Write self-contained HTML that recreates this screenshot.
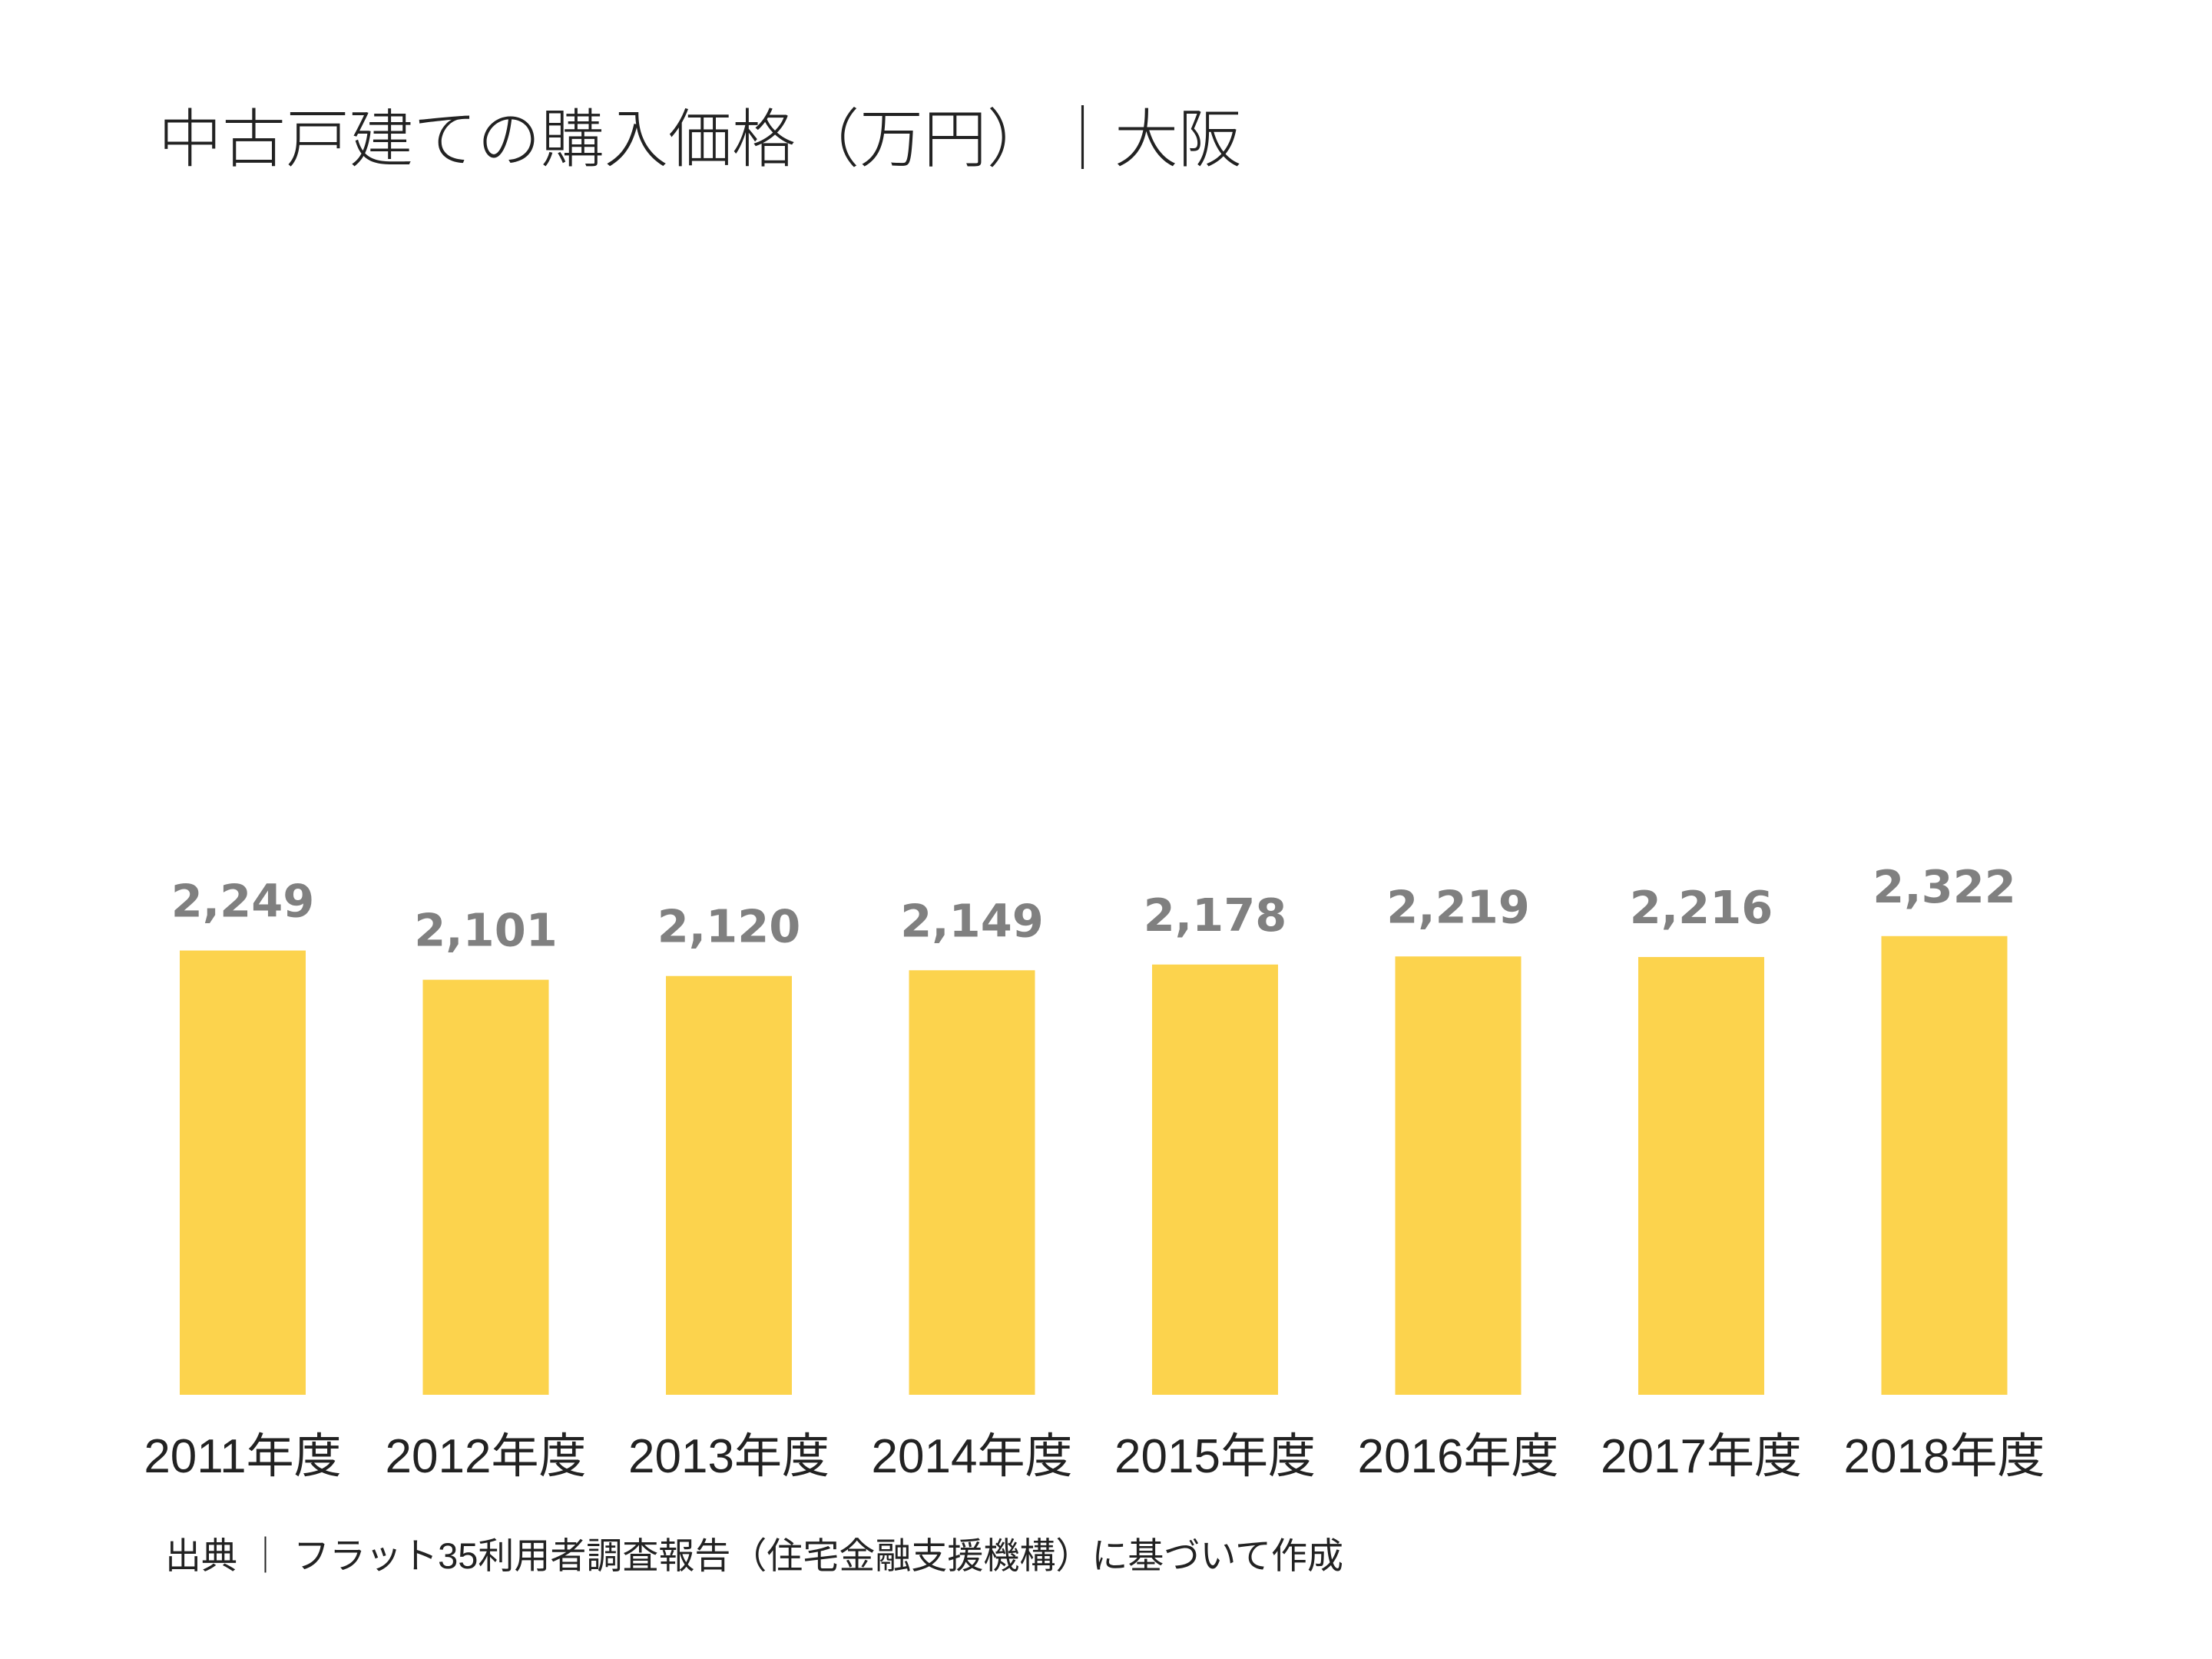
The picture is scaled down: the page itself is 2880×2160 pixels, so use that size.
<!DOCTYPE html>
<html><head><meta charset="utf-8"><style>
html,body{margin:0;padding:0;background:#fff;}
body{width:2880px;height:2160px;position:relative;overflow:hidden;font-family:"Liberation Sans","Noto Sans CJK JP",sans-serif;}
</style></head><body>
<svg id="chart" width="2880" height="2160" style="position:absolute;left:0;top:0">
<text x="206" y="210" font-size="83" font-weight="300" fill="#222" font-family="Noto Sans CJK JP, sans-serif">中古戸建ての購入価格（万円）｜大阪</text>
<text x="215" y="2042" font-size="47" fill="#222" font-family="Liberation Sans, Noto Sans CJK JP, sans-serif">出典 ｜ フラット35利用者調査報告（住宅金融支援機構）に基づいて作成</text>
</svg>
<script>
const categories=["2011年度","2012年度","2013年度","2014年度","2015年度","2016年度","2017年度","2018年度"];
const values=[2249,2101,2120,2149,2178,2219,2216,2322];
const valueLabels=["2,249","2,101","2,120","2,149","2,178","2,219","2,216","2,322"];
const svg=document.getElementById('chart');
const NS="http://www.w3.org/2000/svg";
const baseY=1816, pxPerUnit=0.2572, x0=316, step=316.5, barW=164;
function xScale(i){return x0+i*step;}
function yScale(v){return baseY-v*pxPerUnit;}
values.forEach((v,i)=>{
  const r=document.createElementNS(NS,'rect');
  
  
  r.setAttribute('x',xScale(i)-barW/2);r.setAttribute('y',yScale(v));
  r.setAttribute('width',barW);r.setAttribute('height',baseY-yScale(v));
  r.setAttribute('fill','#fcd34d');
  svg.appendChild(r);
  const t=document.createElementNS(NS,'text');
  
  
  t.setAttribute('x',xScale(i));t.setAttribute('y',yScale(v)-44);
  t.setAttribute('text-anchor','middle');t.setAttribute('font-size','59');
  t.setAttribute('font-weight','bold');t.setAttribute('fill','#808080');
  t.setAttribute('font-family','"DejaVu Sans","Liberation Sans",sans-serif');
  t.textContent=valueLabels[i];
  svg.appendChild(t);
  const c=document.createElementNS(NS,'text');
  
  
  c.setAttribute('x',xScale(i));c.setAttribute('y',1917);
  c.setAttribute('text-anchor','middle');c.setAttribute('font-size','62');
  c.setAttribute('fill','#222');
  c.setAttribute('font-family','"Liberation Sans","Noto Sans CJK JP",sans-serif');
  c.textContent=categories[i];
  svg.appendChild(c);
});
</script>
</body></html>
